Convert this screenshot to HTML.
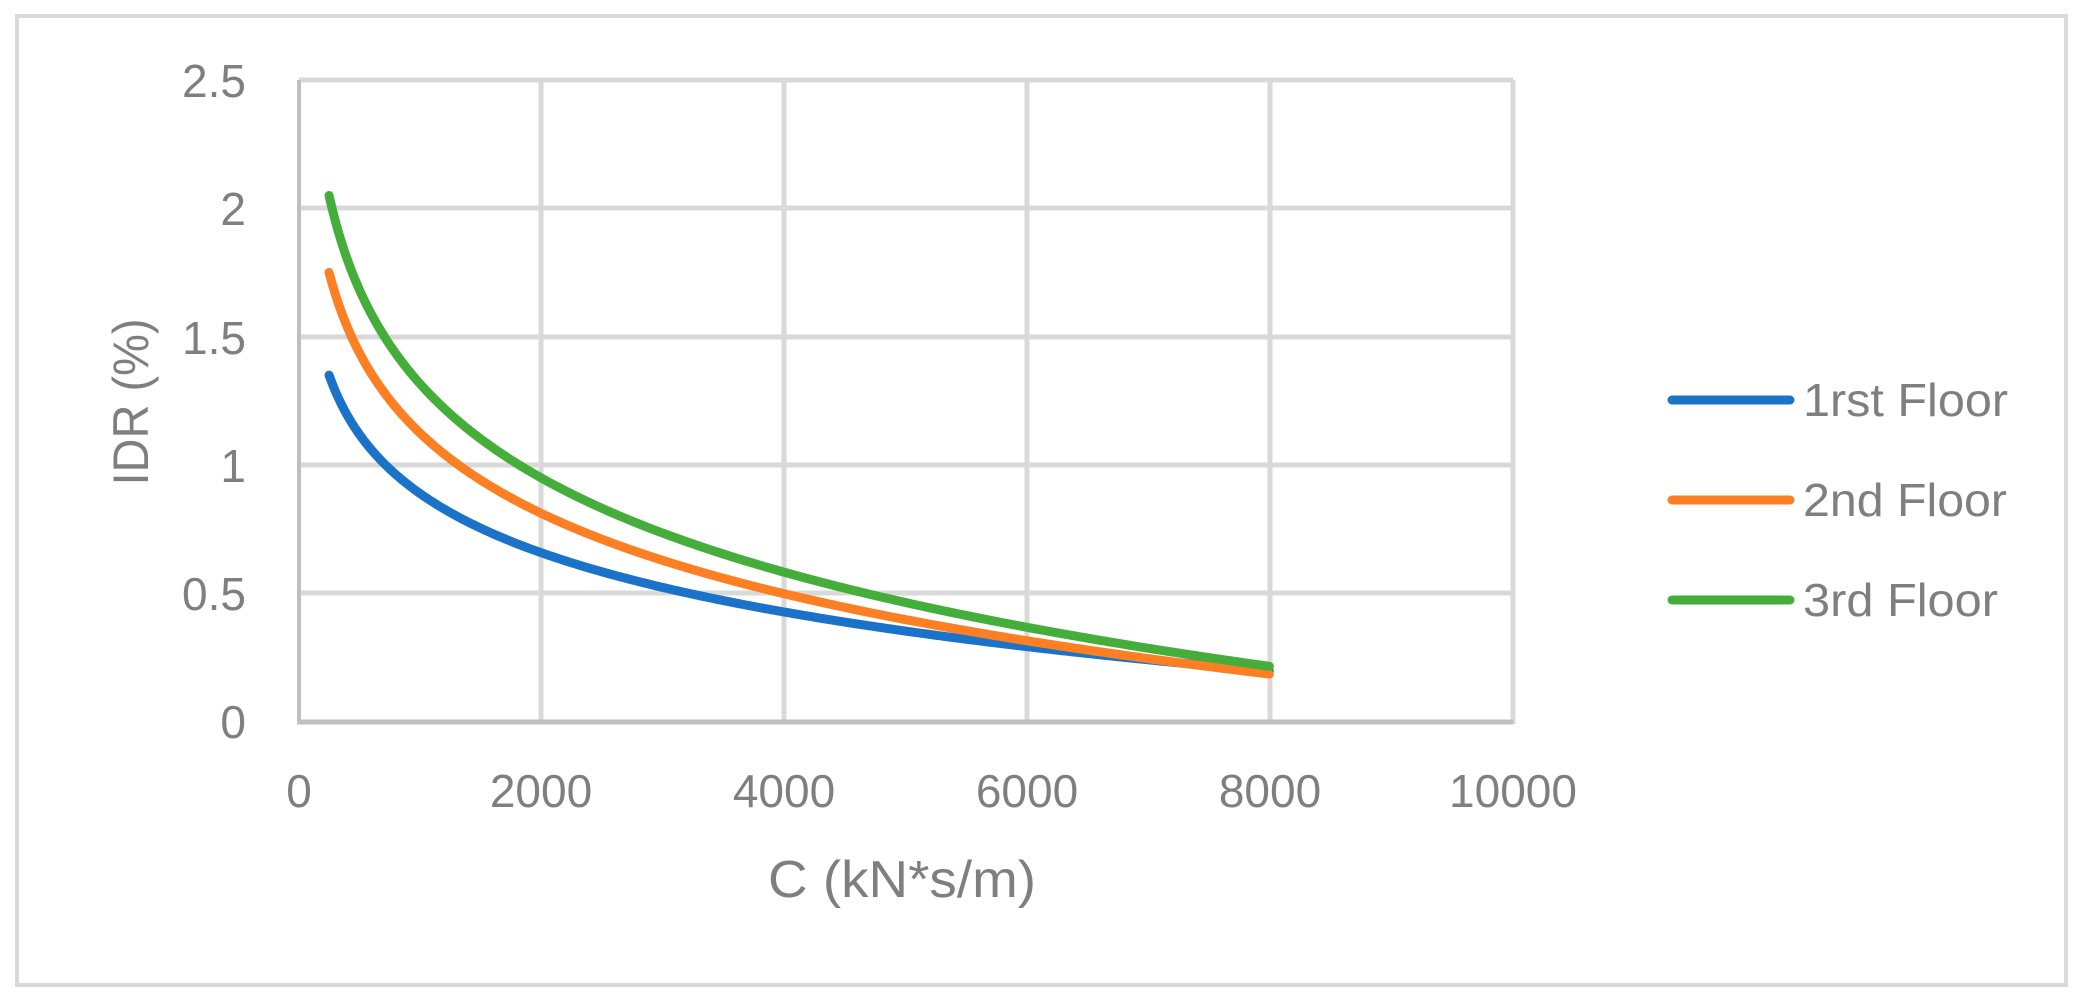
<!DOCTYPE html>
<html><head><meta charset="utf-8"><style>
html,body{margin:0;padding:0;background:#fff;}
svg{display:block;}
text{font-family:"Liberation Sans",sans-serif;fill:#7f7f7f;}
</style></head><body>
<svg id="s" width="2085" height="1002" viewBox="0 0 2085 1002" xmlns="http://www.w3.org/2000/svg">
<rect x="0" y="0" width="2085" height="1002" fill="#fff"/>
<rect x="17" y="16" width="2049" height="969" fill="none" stroke="#d9d9d9" stroke-width="4"/>
<g stroke="#d9d9d9" stroke-width="5">
<line x1="299" y1="80" x2="1513" y2="80"/>
<line x1="299" y1="208" x2="1513" y2="208"/>
<line x1="299" y1="337" x2="1513" y2="337"/>
<line x1="299" y1="465" x2="1513" y2="465"/>
<line x1="299" y1="593" x2="1513" y2="593"/>
<line x1="541" y1="80" x2="541" y2="722"/>
<line x1="784" y1="80" x2="784" y2="722"/>
<line x1="1027" y1="80" x2="1027" y2="722"/>
<line x1="1270" y1="80" x2="1270" y2="722"/>
<line x1="1513" y1="80" x2="1513" y2="724"/>
</g>
<line x1="299" y1="80" x2="299" y2="722" stroke="#bfbfbf" stroke-width="4"/>
<line x1="297" y1="722" x2="1513" y2="722" stroke="#bfbfbf" stroke-width="5"/>
<g font-size="46" text-anchor="end">
<text x="246" y="97">2.5</text>
<text x="246" y="225">2</text>
<text x="246" y="354">1.5</text>
<text x="246" y="482">1</text>
<text x="246" y="610">0.5</text>
<text x="246" y="738">0</text>
</g>
<g font-size="46" text-anchor="middle">
<text x="299" y="807">0</text>
<text x="541" y="807">2000</text>
<text x="784" y="807">4000</text>
<text x="1027" y="807">6000</text>
<text x="1270" y="807">8000</text>
<text x="1513" y="807">10000</text>
</g>
<text x="902" y="897" font-size="52" text-anchor="middle" textLength="268" lengthAdjust="spacingAndGlyphs">C (kN*s/m)</text>
<text transform="translate(148,402) rotate(-90)" font-size="50" text-anchor="middle" textLength="167" lengthAdjust="spacingAndGlyphs">IDR (%)</text>
<g stroke-width="9" stroke-linecap="round">
<line x1="1672" y1="400" x2="1790" y2="400" stroke="#1a73c8"/>
<line x1="1672" y1="500" x2="1790" y2="500" stroke="#fd7f23"/>
<line x1="1672" y1="600" x2="1790" y2="600" stroke="#45ae3b"/>
</g>
<g font-size="46">
<text x="1803" y="416" textLength="205" lengthAdjust="spacingAndGlyphs">1rst Floor</text>
<text x="1803" y="516" textLength="204" lengthAdjust="spacingAndGlyphs">2nd Floor</text>
<text x="1803" y="616" textLength="195" lengthAdjust="spacingAndGlyphs">3rd Floor</text>
</g>
<g id="curves" fill="none" stroke-width="9" stroke-linecap="round" stroke-linejoin="round"></g>
</svg>
<script>
var S=[["#1a73c8",1.35,0.196],["#fd7f23",1.75,0.185],["#45ae3b",2.05,0.215]];
function X(v){return 298.7+v*0.12133;}
function Y(v){return 721.5-256.6*v;}
var g=document.getElementById('curves');
var u0=Math.log(250),u1=Math.log(8000);
S.forEach(function(s){
 var d="";
 for(var i=0;i<=300;i++){
  var x=250+(8000-250)*i/300;
  var t=(Math.log(x)-u0)/(u1-u0);
  var v=s[1]+(s[2]-s[1])*t;
  d+=(i?" L":"M")+X(x).toFixed(2)+","+Y(v).toFixed(2);
 }
 var e=document.createElementNS("http://www.w3.org/2000/svg","path");
 e.setAttribute("d",d);e.setAttribute("stroke",s[0]);g.appendChild(e);
});
</script>
</body></html>
